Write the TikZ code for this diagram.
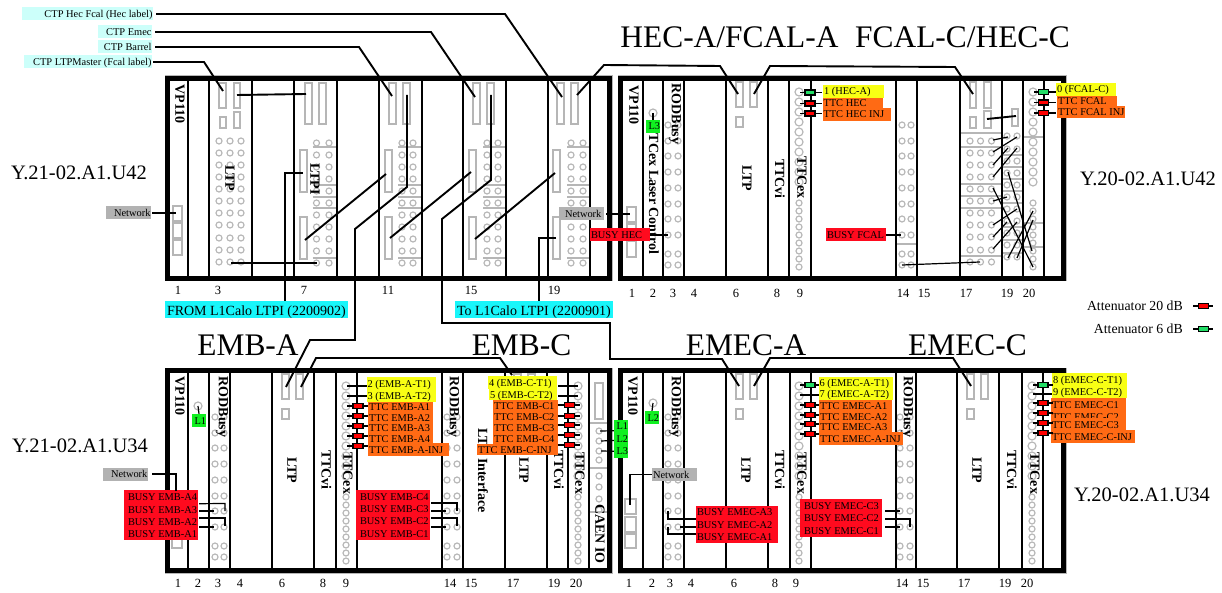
\documentclass[tikz,border=0pt]{standalone}
\usepackage{fontspec}
\setmainfont{Liberation Serif}
\definecolor{cgray}{HTML}{B6B6B6}
\definecolor{paleC}{HTML}{CCFFFA}
\definecolor{cyanL}{HTML}{18F6FA}
\definecolor{grayL}{HTML}{B2B2B2}
\definecolor{redL}{HTML}{FF0A1E}
\definecolor{oraL}{HTML}{FF6A14}
\definecolor{yelL}{HTML}{F8FF14}
\definecolor{greL}{HTML}{10F020}
\definecolor{attG}{HTML}{22DD66}
\newcommand\fsz[1]{\fontsize{#1}{#1}\selectfont}
\tikzset{
  cc/.style={draw=cgray,line width=1.15pt},
  ggrid/.style={draw=cgray,line width=1.1pt},
  modbox/.style={draw=cgray,line width=1.1pt,fill=white},
  slotline/.style={line width=1.6pt,black},
  crate/.style={line width=5pt,black},
  cable/.style={line width=1.9pt,black},
  wire/.style={line width=1.2pt,black},
  num/.style={inner sep=0,font=\fsz{12.5}},
  big/.style={inner sep=0,font=\fsz{31.4}},
  rack/.style={inner sep=0,font=\fsz{20.5}},
  vtext/.style={inner sep=0,rotate=-90,font=\bfseries\fsz{14}},
  labb/.style={inner sep=0,text height=8pt,text depth=1pt,font=\fsz{10.4}},
  labbig/.style={inner sep=0,text height=11pt,text depth=0pt,font=\fsz{14}},
  attbox/.style={draw=black,line width=1.1pt,inner sep=0,minimum width=10pt,minimum height=5pt},
  legtext/.style={inner sep=0,anchor=east,font=\fsz{13.8}},
}
% label with left aligned text
\newcommand\lab[8][1pt]{%
  \pgfmathsetlengthmacro\labw{#6-#4}%
  \node[labb,fill=#3,minimum height={#7-#5}] (#2) at ({(#4+#6)/2},{(#5+#7)/2}) {\hbox to \labw{\hspace{#1}#8\hss}};}
% label with right aligned text
\newcommand\labr[7]{%
  \pgfmathsetlengthmacro\labw{#5-#3}%
  \node[labb,fill=#2,minimum height={#6-#4}] (#1) at ({(#3+#5)/2},{(#4+#6)/2}) {\hbox to \labw{\hss#7\hspace{0.5pt}}};}
\newcommand\labbg[7]{%
  \pgfmathsetlengthmacro\labw{#5-#3}%
  \node[labbig,fill=#2,minimum height={#6-#4}] (#1) at ({(#3+#5)/2},{(#4+#6)/2}) {\hbox to \labw{\hspace{2pt}#7\hss}};}
\newcommand\gbox[4]{\draw[modbox] (#1,#2) rectangle (#3,#4);}
\newcommand\glin[3]{\draw[ggrid] (#1,#3) -- (#2,#3);}
% LTP front panel connectors
\newcommand\ltpcon[2]{\gbox{#1}{#2}{#1+7}{#2+25}\gbox{#1+14}{#2}{#1+21}{#2+25}\gbox{#1}{#2+35}{#1+7}{#2+45}}
% rack-1 module: top rect x, low rect x, circle x1, circle x2, right end
\newcommand\ltpimod[5]{%
  \gbox{#1}{83}{#1+7}{124}\gbox{#1+14}{83}{#1+21}{124}%
  \gbox{#2}{150}{#2+7}{192}\gbox{#2}{217}{#2+7}{259}%
  \foreach \y in {147,185,197,208,258}{\glin{#3-4}{#5}{\y}}%
  \foreach \x in {#3,#4}\foreach \y in {143,155,167,179,191,203,215,227,239,251,263}{\draw[cc] (\x,\y) circle (3pt);}}
\newcommand\rodbusy[3]{\foreach \x in {#1,#2}\foreach \y in {125,141,156,172,188,204,219,235,254,265}{\draw[cc] (\x,{\y+#3}) circle (3pt);}}
\newcommand\ttcex[2]{%
  \foreach \y in {92,102,...,182}{\draw[cc] (#1,{\y+#2}) circle (4pt);}%
  \foreach \y in {203,211,219,227,235,243,251,259,267}{\draw[cc] (#1,{\y+#2}) circle (3pt);}}
\newcommand\crateframe[4]{%
  \draw[line width=6pt,cgray] (#1,#2) rectangle (#3,#4);
  \draw[crate,fill=white] (#1,#2) rectangle (#3,#4);}
\newcommand\dividers[3]{\foreach \x in {#3}{\draw[slotline] (\x,#1) -- (\x,#2);}}
\newcommand\attn[6]{\draw[wire] (#1,#5) -- (#2,#5); \node[attbox,fill=#6] (#3) at (#4,#5) {};}
\begin{document}
\begin{tikzpicture}[x=1pt,y=-1pt]
\useasboundingbox (0,0) rectangle (1222,593);
\fill[white] (0,0) rectangle (1222,593);

% ---- crates
\crateframe{167.5}{78.5}{609.5}{278.5}
\crateframe{620.5}{78.5}{1063.5}{278.5}
\crateframe{167.5}{370.5}{609.5}{570.5}
\crateframe{620.5}{370.5}{1063.5}{570.5}

% ---- top-left modules
\gbox{173}{206}{182}{221}\gbox{173}{223}{182}{238}\gbox{173}{240}{182}{255}
\gbox{219}{83}{226}{108}\gbox{234}{83}{240}{108}\gbox{220}{117}{226}{128}\gbox{234}{112}{240}{128}
\foreach \x in {219,230,241}\foreach \y in {141,153,165,177,189,201,213,225,238,250,262}{\draw[cc] (\x,\y) circle (3pt);}
\ltpimod{305}{300}{316.5}{329}{337}
\ltpimod{389}{385}{402}{413}{422}
\ltpimod{473}{469}{487}{498}{506}
\ltpimod{557}{553}{571}{583}{590}

% ---- top-right modules
\gbox{627}{207}{636}{222}\gbox{627}{224}{636}{239}\gbox{627}{241}{636}{257}
\draw[cc] (653,113) circle (4pt);
\rodbusy{668}{678}{0}
\ltpcon{736}{82}
\ttcex{799}{0}
\rodbusy{902}{911}{0}
\glin{896}{917}{244}
\gbox{970}{82}{976}{108}\gbox{984}{82}{991}{108}\gbox{970}{117}{976}{128}\gbox{984}{111}{991}{128}\gbox{1012}{109}{1018}{126}
\foreach \y in {133,147,184,196,208,256}{\glin{960}{1002}{\y}}
\foreach \x in {970,980.5,991.5}\foreach \y in {141,153,165,177,189,201,213,225,237,250,262}{\draw[cc] (\x,\y) circle (3pt);}
\foreach \y in {155,167,179,191,203,227,240,253}{\glin{1002}{1023}{\y}}
\foreach \x in {1007,1017}\foreach \y in {136,149,161,173,185,197,209,221,233,245,257}{\draw[cc] (\x,\y) circle (3pt);}
\ttcex{1033}{0}
\foreach \y in {137,223,247}{\glin{1023}{1044}{\y}}

% ---- bottom-left modules
\gbox{172}{499}{182}{514}\gbox{172}{516}{182}{531}\gbox{172}{533}{182}{548}
\draw[cc] (198,406) circle (4pt);
\rodbusy{215}{224}{292}
\ltpcon{282}{374}
\ttcex{346}{294}
\rodbusy{447}{457}{292}
\ltpcon{514}{374}
\ttcex{578}{294}
\gbox{595}{383}{603}{419}
\foreach \y in {423,468,512}{\glin{589}{607}{\y}}
\foreach \y in {431,441,451,460,476,487,499,510}{\draw[cc] (599,\y) circle (3pt);}

% ---- bottom-right modules
\gbox{625}{499}{636}{514}\gbox{625}{517}{636}{532}\gbox{625}{534}{636}{548}
\draw[cc] (653,403) circle (4pt);
\rodbusy{668}{678}{292}
\ltpcon{736}{374}
\ttcex{799}{294}
\rodbusy{900}{910}{292}
\ltpcon{967}{374}
\ttcex{1032}{294}

% ---- slot dividers
\dividers{81}{276}{188,209,252,294,337,379,422,463,506,548,590}
\dividers{81}{276}{643,663,684,726,768,789,811,896,917,960,1002,1023,1044}
\dividers{373}{568}{188,209,230,272,314,336,357,442,463,505,547,568,589}
\dividers{373}{568}{643,663,684,726,768,790,811,896,916,957,999,1022,1043}

% ---- rotated module names
\node[vtext] (tlvp) at (180,104) {VP110};
\node[vtext] (tlltp) at (230,178) {LTP};
\node[vtext] (tlltpi) at (315,179) {LTPI};
\node[vtext] (trvp) at (634,105) {VP110};
\node[vtext] (trlaser) at (654,194) {TCex Laser Control};
\node[vtext] (trrod) at (675,114) {RODBusy};
\node[vtext] (trltp) at (747,178) {LTP};
\node[vtext] (trvi) at (780,179) {TTCvi};
\node[vtext] (trex) at (802,178) {TTCex};
\node[vtext] (blvp) at (180,396) {VP110};
\node[vtext] (blrod) at (222,407) {RODBusy};
\node[vtext] (blltp) at (292,470) {LTP};
\node[vtext] (blvi) at (326.5,470) {TTCvi};
\node[vtext] (blex) at (348,473) {TTCex};
\node[vtext] (blrodb) at (453,407) {RODBusy};
\node[vtext] (blif) at (483,470.5) {LTP Interface};
\node[vtext] (blltpb) at (524,470) {LTP};
\node[vtext] (blvib) at (559,470) {TTCvi};
\node[vtext] (blexb) at (580,473) {TTCex};
\node[vtext] (blcaen) at (600,534) {CAEN IO};
\node[vtext] (brvp) at (633,396) {VP110};
\node[vtext] (brrod) at (675,407) {RODBusy};
\node[vtext] (brltp) at (746,470) {LTP};
\node[vtext] (brvi) at (780,470) {TTCvi};
\node[vtext] (brex) at (802,473) {TTCex};
\node[vtext] (brrodb) at (907,407) {RODBusy};
\node[vtext] (brltpb) at (977,470) {LTP};
\node[vtext] (brvib) at (1012,470) {TTCvi};
\node[vtext] (brexb) at (1035,473) {TTCex};

% ---- slot numbers
\foreach \x/\l in {178/1,218/3,304/7,388/11,471/15,554/19}{\node[num] (na\l) at (\x,290) {\l};}
\foreach \x/\l in {632/1,653/2,673/3,694/4,736/6,777/8,800/9,903/14,924/15,966/17,1007/19,1029/20}{\node[num] (nb\l) at (\x,293) {\l};}
\foreach \x/\l in {178/1,198/2,218/3,240/4,282/6,323/8,346/9,450/14,471/15,513/17,554/19,576/20}{\node[num] (nc\l) at (\x,583) {\l};}
\foreach \x/\l in {629/1,652/2,670/3,691/4,734/6,775/8,796/9,902/14,923/15,964/17,1005/19,1027/20}{\node[num] (nd\l) at (\x,583) {\l};}

% ---- titles
\node[big] (thec) at (729.5,37) {HEC-A/FCAL-A};
\node[big] (tfcal) at (962.5,37) {FCAL-C/HEC-C};
\node[big] (temba) at (248,345) {EMB-A};
\node[big] (tembc) at (521.5,345) {EMB-C};
\node[big] (temea) at (746,345) {EMEC-A};
\node[big] (temec) at (967.5,345) {EMEC-C};
\node[rack] (ra) at (79,173) {Y.21-02.A1.U42};
\node[rack] (rb) at (1148,179) {Y.20-02.A1.U42};
\node[rack] (rc) at (80,446) {Y.21-02.A1.U34};
\node[rack] (rd) at (1142,495) {Y.20-02.A1.U34};

% ---- labels
\labr{ctphec}{paleC}{22}{7.5}{153}{20.5}{CTP Hec Fcal (Hec label)}
\labr{ctpemec}{paleC}{98}{25.5}{152}{38.5}{CTP Emec}
\labr{ctpbar}{paleC}{98}{40.5}{152}{53.5}{CTP Barrel}
\labr{ctpltp}{paleC}{24}{55.5}{152}{68.5}{CTP LTPMaster (Fcal label)}
\labr{netA}{grayL}{106}{206.5}{151}{219.5}{Network}
\lab[8pt]{netC}{grayL}{103}{467.5}{148}{480.5}{Network}
\lab[6pt]{netB}{grayL}{559}{207.5}{604}{220.5}{Network}
\lab{netD}{grayL}{652}{468}{697}{481}{Network}
\labbg{fromL}{cyanL}{165}{301}{348}{318}{FROM L1Calo LTPI (2200902)}
\labbg{toL}{cyanL}{455}{301}{613}{318}{To L1Calo LTPI (2200901)}

\lab{busyhec}{redL}{590}{228.5}{650}{241.5}{BUSY HEC}
\lab{busyfcal}{redL}{826}{228.5}{886}{241.5}{BUSY FCAL}

\lab{l3t}{greL}{646}{120}{660}{133}{\hspace{1.5pt}L3}
\lab{l1b}{greL}{192}{414}{206}{427}{\hspace{1.5pt}L1}
\lab{l2b}{greL}{645}{411}{659}{424}{\hspace{1.5pt}L2}
\lab{l1c}{greL}{614}{420}{628}{432.5}{\hspace{1.5pt}L1}
\lab{l2c}{greL}{614}{432.5}{628}{445}{\hspace{1.5pt}L2}
\lab{l3c}{greL}{614}{445}{628}{457.5}{\hspace{1.5pt}L3}

\lab{hecA}{yelL}{823}{85}{884}{98}{1 (HEC-A)}
\lab[0.5pt]{ttchec}{oraL}{823}{98}{883}{108.5}{TTC HEC}
\lab[0.5pt]{ttcheci}{oraL}{823}{108}{891}{121}{TTC HEC INJ}
\lab{fcalC}{yelL}{1056}{83}{1116}{96}{0 (FCAL-C)}
\lab{ttcfc}{oraL}{1057}{96}{1117}{106.5}{TTC FCAL}
\lab{ttcfci}{oraL}{1057}{106}{1125}{118}{TTC FCAL INJ}

\lab[0.5pt]{embaT}{yelL}{367}{377}{436}{390}{2 (EMB-A-T1)}
\lab[0.5pt]{embaU}{yelL}{367}{390}{436}{402}{3 (EMB-A-T2)}
\lab{embaA}{oraL}{368}{402}{433}{412}{TTC EMB-A1}
\lab{embaB}{oraL}{368}{412}{433}{423}{TTC EMB-A2}
\lab{embaC}{oraL}{368}{423}{433}{433}{TTC EMB-A3}
\lab{embaD}{oraL}{368}{433}{433}{444}{TTC EMB-A4}
\lab{embaI}{oraL}{368}{443}{449}{456}{TTC EMB-A-INJ}

\lab{embcT}{yelL}{488}{376}{557}{389}{4 (EMB-C-T1)}
\lab{embcU}{yelL}{489}{389}{557}{400}{5 (EMB-C-T2)}
\lab{embcA}{oraL}{493}{400}{558}{411}{TTC EMB-C1}
\lab{embcB}{oraL}{493}{411}{558}{422}{TTC EMB-C2}
\lab{embcC}{oraL}{493}{422}{558}{433}{TTC EMB-C3}
\lab{embcD}{oraL}{493}{433}{558}{444}{TTC EMB-C4}
\lab{embcI}{oraL}{477}{444}{558}{455}{TTC EMB-C-INJ}

\lab[0.5pt]{emeaT}{yelL}{819}{377}{893}{388}{6 (EMEC-A-T1)}
\lab[0.5pt]{emeaU}{yelL}{819}{388}{893}{400}{7 (EMEC-A-T2)}
\lab{emeaA}{oraL}{819}{400}{892}{411}{TTC EMEC-A1}
\lab{emeaB}{oraL}{819}{411}{892}{422}{TTC EMEC-A2}
\lab{emeaC}{oraL}{819}{422}{892}{432}{TTC EMEC-A3}
\lab{emeaI}{oraL}{819}{432}{903}{445}{TTC EMEC-A-INJ}

\lab{emecT}{yelL}{1052}{373}{1127}{386}{8 (EMEC-C-T1)}
\lab{emecU}{yelL}{1052}{386}{1127}{398}{9 (EMEC-C-T2)}
\lab{emecA}{oraL}{1051}{398}{1126}{411}{TTC EMEC-C1}
\lab{emecB}{oraL}{1051}{411}{1126}{423}{TTC EMEC-C2}
\lab{emecC}{oraL}{1051}{418}{1126}{431}{TTC EMEC-C3}
\lab{emecI}{oraL}{1051}{430}{1135}{443}{TTC EMEC-C-INJ}

\lab[4pt]{bA4}{redL}{124}{490}{198}{503.5}{BUSY EMB-A4}
\lab[4pt]{bA3}{redL}{124}{503}{198}{516}{BUSY EMB-A3}
\lab[4pt]{bA2}{redL}{124}{515}{198}{528}{BUSY EMB-A2}
\lab[4pt]{bA1}{redL}{124}{527.5}{198}{540}{BUSY EMB-A1}
\lab[4pt]{bC4}{redL}{356}{490}{430}{503.5}{BUSY EMB-C4}
\lab[4pt]{bC3}{redL}{356}{503}{430}{515.5}{BUSY EMB-C3}
\lab[4pt]{bC2}{redL}{356}{515}{430}{527.5}{BUSY EMB-C2}
\lab[4pt]{bC1}{redL}{356}{527}{430}{540}{BUSY EMB-C1}
\lab[1pt]{eA3}{redL}{696}{506}{778}{518.5}{BUSY EMEC-A3}
\lab[1pt]{eA2}{redL}{696}{518}{778}{531}{BUSY EMEC-A2}
\lab[1pt]{eA1}{redL}{696}{530.5}{778}{543}{BUSY EMEC-A1}
\lab[4pt]{eC3}{redL}{800}{499}{882}{512}{BUSY EMEC-C3}
\lab[4pt]{eC2}{redL}{800}{511.5}{882}{524.5}{BUSY EMEC-C2}
\lab[4pt]{eC1}{redL}{800}{524}{882}{537}{BUSY EMEC-C1}

% ---- attenuators
\attn{800}{822}{attA}{810}{92.5}{attG}
\attn{800}{822}{attB}{810}{103.5}{red}
\attn{800}{822}{attC}{810}{113.5}{red}
\attn{1034}{1056}{attD}{1043.5}{92}{attG}
\attn{1034}{1056}{attE}{1043.5}{102.5}{red}
\attn{1034}{1056}{attF}{1043.5}{113}{red}
\draw[wire] (347,386) -- (347,386 -| embaT.west);
\draw[wire] (347,396) -- (347,396 -| embaU.west);
\foreach \y/\n in {406/a,416/b,426/c,436/d,446/e}{\attn{347}{368}{attH\n}{358}{\y}{red}}
\draw[wire] (558,386) -- (578,386);
\draw[wire] (558,396) -- (578,396);
\foreach \y/\n in {405/a,416/b,425/c,435/d,445/e}{\attn{558}{580}{attI\n}{569.5}{\y}{red}}
\attn{800}{819}{attJ}{810}{385}{attG}
\draw[wire] (800,395) -- (800,395 -| emeaU.west);
\foreach \y/\n in {405/a,415/b,424/c,434/d}{\attn{800}{819}{attK\n}{810}{\y}{red}}
\attn{1033}{1053}{attL}{1043}{385}{attG}
\draw[wire] (1033,394) -- (1033,394 -| emecU.west);
\foreach \y/\n in {403/a,413/b,423/c,433/d}{\attn{1033}{1053}{attM\n}{1043}{\y}{red}}
% legend
\node[legtext] (leg20) at (1183,306) {Attenuator 20 dB};
\node[legtext] (leg6) at (1183,329) {Attenuator 6 dB};
\attn{1193}{1213}{legR}{1203.5}{306}{red}
\attn{1193}{1213}{legG}{1203.5}{329}{attG}

% ---- free ends of the connectors
\coordinate (s3tA) at (223,91);  \coordinate (s3tB) at (237,95);
\coordinate (s7tA) at (306,94);  \coordinate (s7b) at (303,173);
\coordinate (s3c) at (231,263);  \coordinate (s7c) at (317,263);
\coordinate (s7d) at (305,240);  \coordinate (s11d) at (386,174);
\coordinate (s11tA) at (392,96); \coordinate (s11tB) at (407,95);
\coordinate (s11e) at (390,238); \coordinate (s15e) at (471,172);
\coordinate (s15tA) at (475,97); \coordinate (s15tB) at (491,95);
\coordinate (s15f) at (475,239); \coordinate (s19f) at (555,173);
\coordinate (s19tA) at (562,97); \coordinate (s19tB) at (577,95);
\coordinate (s19g) at (556,238);
\coordinate (hA) at (738,94);    \coordinate (hB) at (754,94);
\coordinate (fA) at (973,94);
\coordinate (emA1) at (286,387); \coordinate (emA2) at (301,387);
\coordinate (emC1) at (512,375);
\coordinate (eeA1) at (739,386); \coordinate (eeA2) at (754,386);
\coordinate (eeC1) at (971,386);

% ---- cables
\draw[cable] (ctphec.east) ++(3,0) -- (505,14) -- (s19tA);
\draw[cable] (ctpemec.east) ++(3,0) -- (431,32) -- (s15tA);
\draw[cable] (ctpbar.east) ++(3,0) -- (359,47) -- (s11tA);
\draw[cable] (ctpltp.east) ++(1,0) -- (204,62) -- (s3tA);
\draw[cable] (s3tB) -- (s7tA);
\draw[cable] (s3c) -- (s7c);
\draw[cable] (s7b) -- (285,173) -- (285,173 |- fromL.north);
\draw[cable] (s7d) -- (s11d);
\draw[cable] (s11e) -- (s15e);
\draw[cable] (s15f) -- (s19f);
\draw[cable] (s11tB) -- (407,187) -- (355,229) -- (355,340) -- (310,340) -- (emA1);
\draw[cable] (emA2) -- (316,358) -- (500,358) -- (emC1);
\draw[cable] (s15tB) -- (491,180) -- (442,219) -- (442,323) -- (610,323) -- (610,359) -- (722,359) -- (eeA1);
\draw[cable] (eeA2) -- (770,358) -- (953,358) -- (eeC1);
\draw[cable] (s19g) -- (539,238) -- (539,238 |- toL.north);
\draw[cable] (s19tB) -- (604,65) -- (720,66) -- (hA);
\draw[cable] (hB) -- (770,66) -- (955,67) -- (fA);
\draw[cable] (987,119) -- (1016,116);

% ---- thin connectors
\draw[wire] (netA.east) ++(1,0) -- (176,213);
\draw[wire] (netB.east) ++(2,0) -- (630,214);
\draw[wire] (netC.east) ++(4,0) -- (176,474) -- (176,491);
\draw[wire] (netD.west) -- (630,474.5) -- (630,505);
\draw[wire] (busyhec.east) -- (668,235);
\draw[wire] (busyfcal.east) -- (901,235);
\draw[wire] (902,265) -- (980,262);
\draw[wire] (653,113) -- (l3t.north);
\draw[wire] (198,406) -- (l1b.north);
\draw[wire] (653,403) -- (l2b.north);
\draw[wire] (l1c.west) ++(0,4.5) -- (600,431);
\draw[wire] (l2c.west) ++(0,1.7) -- (601,441);
\draw[wire] (l3c.west) -- (601,451);
\draw[wire] (bA4.south east) ++(1,0) -- (225,503.5) -- (225,511);
\draw[wire] (199,511) -- (214,511);
\draw[wire] (199,518) -- (225,518) -- (225,526);
\draw[wire] (199,527) -- (214,527);
\draw[wire] (431,503) -- (457,503) -- (457,511);
\draw[wire] (431,511) -- (446,511);
\draw[wire] (431,518) -- (457,518) -- (457,526);
\draw[wire] (431,527) -- (446,527);
\draw[wire] (696,519) -- (668,519) -- (668,511);
\draw[wire] (680,527) -- (696,527);
\draw[wire] (696,534) -- (668,534) -- (668,527);
\draw[wire] (885,511) -- (900,511);
\draw[wire] (885,519) -- (910,519) -- (910,527);
\draw[wire] (885,527) -- (900,527);
\foreach \a/\b/\c/\d in {993/140/1008/137,993/152/1017/137,993/165/1008/148,993/177/1017/148,993/188/1033/267,993/201/1007/197,993/225/1017/209,993/237/1007/222,993/249/1017/222,1008/172/1032/251,1008/258/1033/211,1017/258/1033/220}{\draw[wire] (\a,\b) -- (\c,\d);}
\end{tikzpicture}
\end{document}
